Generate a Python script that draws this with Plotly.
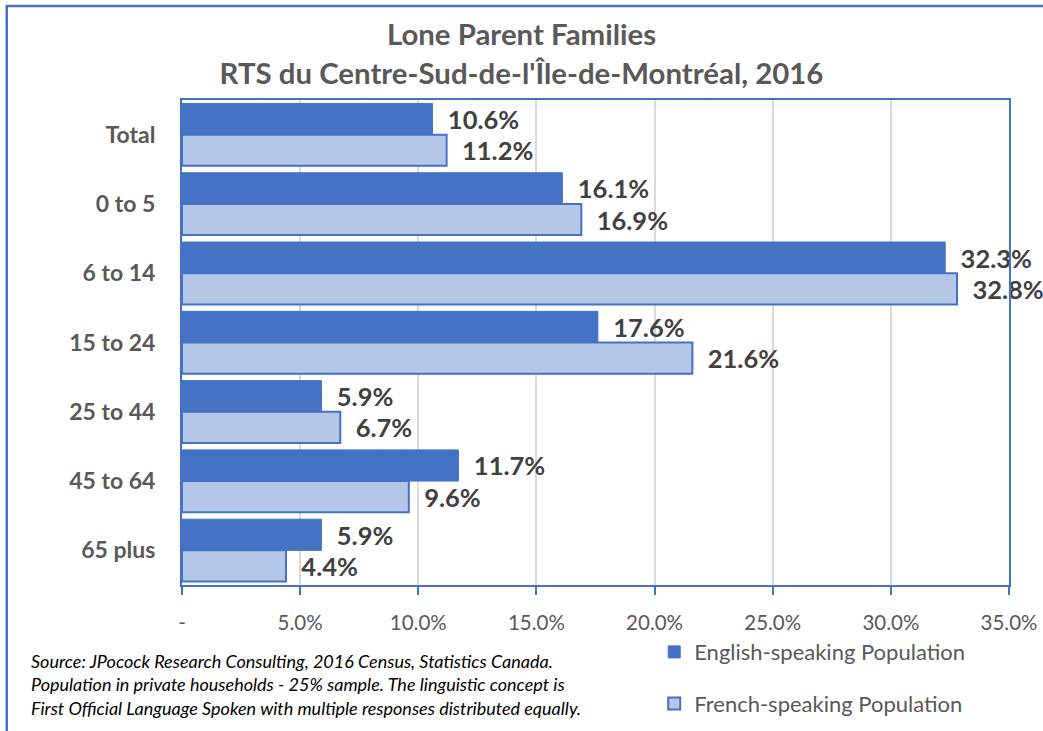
import plotly.graph_objects as go

categories = ["Total", "0 to 5", "6 to 14", "15 to 24", "25 to 44", "45 to 64", "65 plus"]
english = [10.6, 16.1, 32.3, 17.6, 5.9, 11.7, 5.9]
french = [11.2, 16.9, 32.8, 21.6, 6.7, 9.6, 4.4]
tick_vals = [0, 5, 10, 15, 20, 25, 30, 35]
tick_text = ["-", "5.0%", "10.0%", "15.0%", "20.0%", "25.0%", "30.0%", "35.0%"]

FONT = "Lato, 'Open Sans', sans-serif"
DARK_BLUE = "#4472C4"
LIGHT_BLUE = "#B4C7E7"

fig = go.Figure()
fig.add_trace(go.Bar(
    y=categories, x=english, orientation="h", name="English-speaking Population",
    legendgroup="en",
    marker=dict(color=DARK_BLUE, line=dict(color=DARK_BLUE, width=1)),
    text=[f"{v:.1f}%" for v in english], textposition="outside",
    texttemplate="  %{text}",
    textfont=dict(family=FONT, size=25.5, color="#404040", weight="bold"),
    cliponaxis=False, constraintext="none",
))
fig.add_trace(go.Bar(
    y=categories, x=french, orientation="h", name="French-speaking Population",
    legendgroup="fr",
    marker=dict(color=LIGHT_BLUE, line=dict(color=DARK_BLUE, width=2)),
    text=[f"{v:.1f}%" for v in french], textposition="outside",
    texttemplate="  %{text}",
    textfont=dict(family=FONT, size=25.5, color="#404040", weight="bold"),
    cliponaxis=False, constraintext="none",
))

fig.update_layout(
    width=1043, height=731,
    paper_bgcolor="white", plot_bgcolor="white",
    margin=dict(l=182, r=34, t=100, b=146, autoexpand=False),
    barmode="group", bargap=0.1, bargroupgap=0,
    font=dict(family=FONT, color="#595959"),
    title=dict(
        text="<b>Lone Parent Families<br>RTS du Centre-Sud-de-l'Île-de-Montréal, 2016</b>",
        x=0.5, xanchor="center", y=0.938, yanchor="top",
        font=dict(family=FONT, size=29.4, color="#595959"),
    ),
    xaxis=dict(
        range=[0, 35], tickvals=tick_vals, ticktext=tick_text,
        showgrid=True, gridcolor="#D9D9D9", gridwidth=1.5,
        showline=True, linecolor=DARK_BLUE, linewidth=2, mirror=True,
        ticks="outside", ticklen=8, tickcolor=DARK_BLUE, tickwidth=2,
        tickfont=dict(family=FONT, size=20.5, color="#595959"),
        ticklabelstandoff=10, automargin=False,
        zeroline=False, fixedrange=True,
    ),
    yaxis=dict(
        autorange="reversed", automargin=False,
        showline=True, linecolor=DARK_BLUE, linewidth=2, mirror=True,
        tickfont=dict(family=FONT, size=23, color="#595959", weight="bold"),
        ticks="", ticklabelstandoff=20, fixedrange=True,
    ),
    legend=dict(
        x=0.571, xanchor="left", y=-0.095, yanchor="top",
        font=dict(family=FONT, size=22, color="#595959"),
        tracegroupgap=20, itemwidth=30, bgcolor="rgba(0,0,0,0)",
    ),
    showlegend=True,
)

fig.add_annotation(
    xref="paper", yref="paper", x=-0.1845, y=-0.129, xanchor="left", yanchor="top",
    align="left", showarrow=False,
    text=("<i>Source: JPocock Research Consulting, 2016 Census, Statistics Canada.<br>"
          "Population in private households - 25% sample. The linguistic concept is<br>"
          "First Official Language Spoken with multiple responses distributed equally.</i>"),
    font=dict(family=FONT, size=18, color="#000000"),
)

fig.add_shape(
    type="rect", xref="paper", yref="paper",
    x0=-0.2119, x1=1.08, y0=-0.4, y1=1.1938,
    line=dict(color=DARK_BLUE, width=2.5), fillcolor="rgba(0,0,0,0)", layer="below",
)

fig.write_html("out.html", config={"displayModeBar": False},
               post_script="document.body.style.margin='0';document.body.style.overflow='hidden';")
